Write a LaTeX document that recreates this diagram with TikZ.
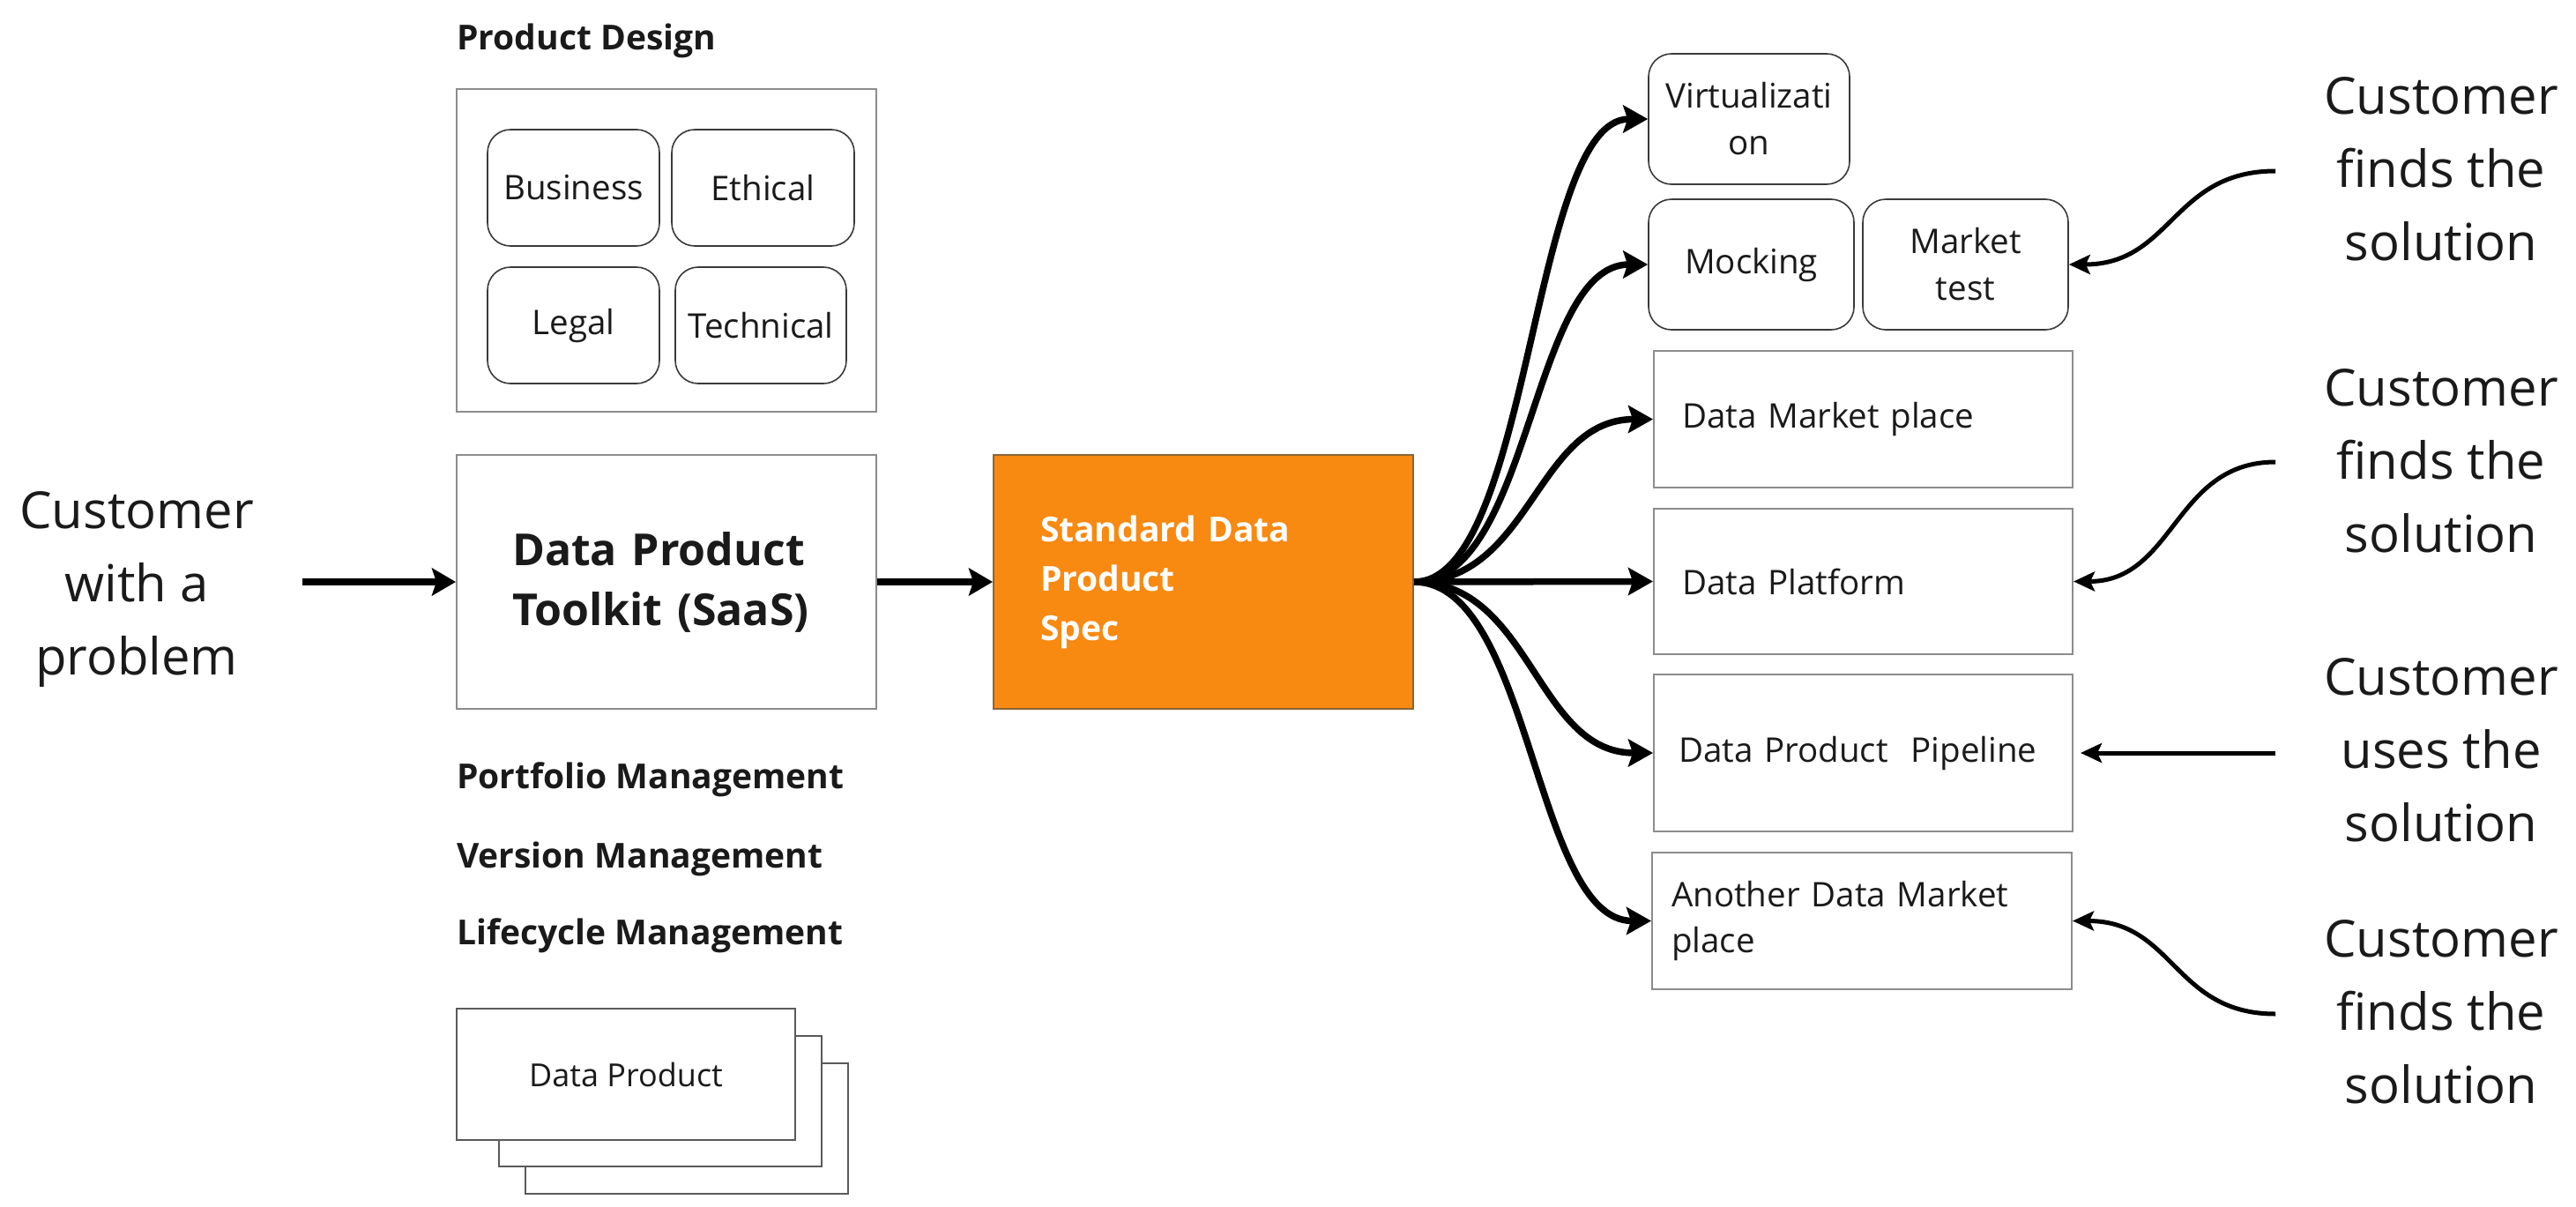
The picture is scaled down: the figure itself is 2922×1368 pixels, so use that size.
\documentclass[tikz,border=0pt]{standalone}
\usepackage{fontspec}
\setmainfont{Open Sans}
\usetikzlibrary{arrows.meta,calc}
\definecolor{ink}{HTML}{1A1A1A}
\definecolor{orng}{RGB}{248,137,17}
\definecolor{orngedge}{HTML}{8A6536}
\definecolor{boxgrey}{HTML}{8C8C8C}
\definecolor{rndedge}{HTML}{3A3A3A}
\definecolor{stackedge}{HTML}{5A5A5A}
\begin{document}
\begin{tikzpicture}[x=1pt,y=-1pt,
  every node/.style={text=ink, inner sep=0pt},
  rndbox/.style={draw=rndedge, line width=1.6pt, rounded corners=26pt, align=center,
    font=\fontsize{38.5}{53}\selectfont},
  greybox/.style={draw=boxgrey, line width=2pt},
  listbox/.style={draw=boxgrey, line width=2pt, align=left, minimum height=#1,
    font=\fontsize{38.5}{52}\selectfont},
  stackbox/.style={draw=stackedge, line width=2pt, fill=white, minimum width=366pt, minimum height=148pt},
  headlabel/.style={anchor=base west, font=\fontsize{39}{50}\bfseries\selectfont},
  custlabel/.style={anchor=base, align=center, font=\fontsize{58}{83}\selectfont},
  bigarrow/.style={line width=8pt, -{Stealth[length=27pt,width=31pt,inset=5pt]}},
  fanarrow/.style={line width=7.5pt, -{Stealth[length=28pt,width=31pt,inset=5pt]}},
  custarrow/.style={line width=5pt, -{Stealth[length=24pt,width=22pt,inset=5pt]}}
]
\fill[white] (0,0) rectangle (2922,1368);
\useasboundingbox (0,0) rectangle (2922,1368);

% Product design block
\node[headlabel] (pdlabel) at (518,56) {Product Design};
\node[greybox, minimum width=476pt, minimum height=366pt] (pd) at (756,284) {};
\node[rndbox, minimum width=195pt, minimum height=132pt] (bus) at (650.5,213) {Business};
\node[rndbox, minimum width=207pt, minimum height=132pt] (eth) at (865.5,213) {Ethical};
\node[rndbox, minimum width=195pt, minimum height=132pt] (leg) at (650.5,369) {Legal};
\node[rndbox, minimum width=194pt, minimum height=132pt] (tec) at (863,369) {Technical};

% Toolkit
\node[greybox, minimum height=288pt, text width=350pt, inner xsep=63pt, align=left,
  font=\fontsize{50}{68}\bfseries\selectfont] (tool) at (756,660) {Data Product\\Toolkit (SaaS)};

% Management labels
\node[headlabel] (port) at (518,894) {Portfolio Management};
\node[headlabel] (vers) at (518,984) {Version Management};
\node[headlabel] (life) at (518,1071) {Lifecycle Management};

% Data product stack
\node[stackbox] (dp3) at (779,1280) {};
\node[stackbox] (dp2) at (749,1249) {};
\node[stackbox, minimum width=384pt, minimum height=149pt,
  font=\fontsize{36}{48}\selectfont] (dp1) at (710,1218.5) {Data Product};

% Spec
\node[fill=orng, draw=orngedge, line width=2pt, minimum height=288pt, text width=370pt,
  inner xsep=53pt, align=left, text=white,
  font=\fontsize{39}{56}\bfseries\selectfont] (spec) at (1365,660) {Standard Data\\Product\\Spec};

% Customer with a problem (anchor = baseline of last line)
\node[custlabel] (cust) at (155,765) {Customer\\with a\\problem};
\coordinate (custout) at (343,660);
\draw[bigarrow] (custout) -- (tool.west);
\draw[bigarrow] (tool.east) -- (spec.west);

% Right targets
\node[rndbox, minimum width=228pt, minimum height=148pt] (virt) at (1984,135) {Virtualizati\\on};
\node[rndbox, minimum width=233pt, minimum height=148pt] (mock) at (1986.5,300) {Mocking};
\node[rndbox, minimum width=233pt, minimum height=148pt] (mkt) at (2229.5,300) {Market\\test};
\node[listbox=155pt, text width=411pt, inner xsep=32pt] (dmp) at (2113.5,475.5) {Data Market place};
\node[listbox=165pt, text width=411pt, inner xsep=32pt] (dpl) at (2113.5,659.5) {Data Platform};
\node[listbox=178pt, text width=419pt, inner xsep=28pt] (pip) at (2113.5,854) {Data Product\ \ Pipeline};
\node[listbox=155pt, text width=432pt, inner xsep=22pt] (ano) at (2112,1044.5) {Another Data Market\\place};

% Fan out
\foreach \t in {virt,mock,dmp,dpl,pip,ano}{
  \draw[fanarrow] (spec.east) .. controls +(133,0) and +(-133,0) .. (\t.west);
}

% Customer labels on the right (anchor = baseline of last line)
\node[custlabel] (r1) at (2769,295) {Customer\\finds the\\solution};
\node[custlabel] (r2) at (2769,626) {Customer\\finds the\\solution};
\node[custlabel] (r3) at (2769,954) {Customer\\uses the\\solution};
\node[custlabel] (r4) at (2769,1251) {Customer\\finds the\\solution};
\coordinate (c1) at (2581,194);
\coordinate (c2) at (2581,524);
\coordinate (c3) at (2581,854);
\coordinate (c4) at (2581,1150);
\draw[custarrow] (c1) .. controls +(-117,0) and +(117,0) .. (mkt.east);
\draw[custarrow] (c2) .. controls +(-115,0) and +(115,0) .. (dpl.east);
\draw[custarrow, shorten >=8pt] (c3) -- (pip.east);
\draw[custarrow] (c4) .. controls +(-115,0) and +(115,0) .. (ano.east);
\end{tikzpicture}
\end{document}
